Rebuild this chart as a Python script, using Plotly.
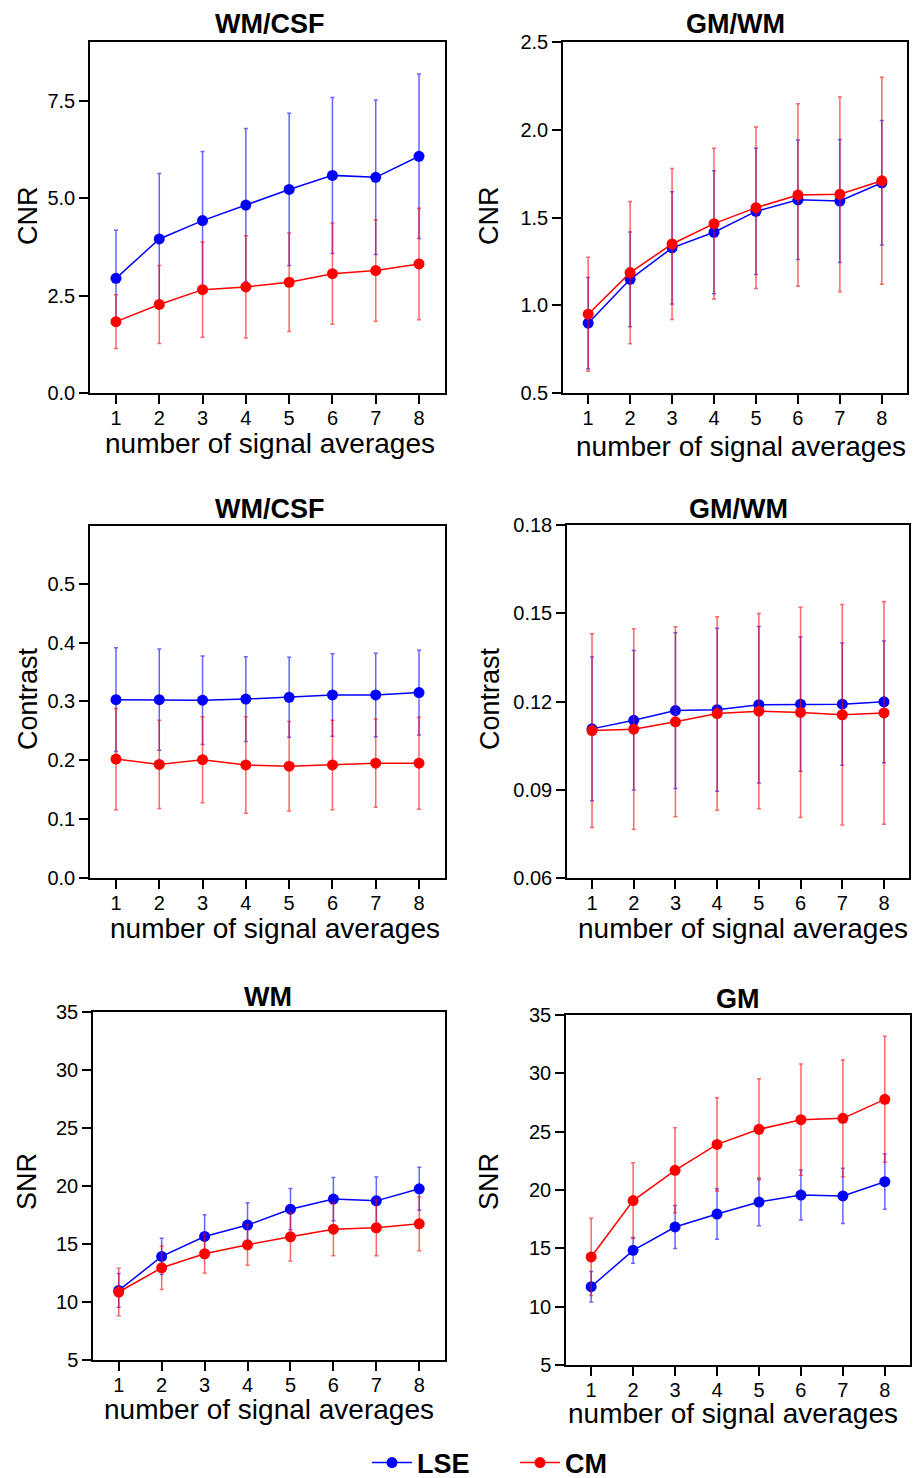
import plotly.graph_objects as go
from plotly.subplots import make_subplots

W, H = 913, 1478
FONT = "Liberation Sans, Arial, sans-serif"

nsa = [1, 2, 3, 4, 5, 6, 7, 8]

# Panel 1: CNR WM/CSF
cnr_wmcsf_lse = [2.94, 3.95, 4.42, 4.82, 5.22, 5.58, 5.53, 6.07]
cnr_wmcsf_lse_sd = [1.23, 1.68, 1.77, 1.96, 1.95, 2.00, 1.98, 2.11]
cnr_wmcsf_cm = [1.83, 2.27, 2.65, 2.72, 2.84, 3.06, 3.14, 3.31]
cnr_wmcsf_cm_sd = [0.69, 1.00, 1.22, 1.31, 1.26, 1.30, 1.30, 1.43]

# Panel 2: CNR GM/WM
cnr_gmwm_lse = [0.898, 1.148, 1.327, 1.416, 1.535, 1.601, 1.594, 1.698]
cnr_gmwm_lse_sd = [0.26, 0.27, 0.32, 0.35, 0.36, 0.34, 0.35, 0.355]
cnr_gmwm_cm = [0.949, 1.186, 1.349, 1.465, 1.556, 1.628, 1.632, 1.709]
cnr_gmwm_cm_sd = [0.325, 0.405, 0.43, 0.43, 0.46, 0.52, 0.555, 0.59]

# Panel 3: Contrast WM/CSF
con_wmcsf_lse = [0.303, 0.303, 0.302, 0.304, 0.307, 0.311, 0.311, 0.315]
con_wmcsf_lse_sd = [0.088, 0.086, 0.075, 0.072, 0.068, 0.070, 0.071, 0.072]
con_wmcsf_cm = [0.202, 0.193, 0.201, 0.192, 0.190, 0.192, 0.195, 0.195]
con_wmcsf_cm_sd = [0.086, 0.075, 0.073, 0.082, 0.076, 0.076, 0.075, 0.078]

# Panel 4: Contrast GM/WM
con_gmwm_lse = [0.1107, 0.1136, 0.1169, 0.1172, 0.1189, 0.1191, 0.1191, 0.1199]
con_gmwm_lse_sd = [0.0244, 0.0237, 0.0265, 0.0277, 0.0266, 0.0228, 0.0208, 0.0207]
con_gmwm_cm = [0.1101, 0.1106, 0.1131, 0.1159, 0.1167, 0.1163, 0.1155, 0.1161]
con_gmwm_cm_sd = [0.0329, 0.0341, 0.0323, 0.0329, 0.0332, 0.0357, 0.0375, 0.0378]

# Panel 5: SNR WM
snr_wm_lse = [11.0, 13.93, 15.65, 16.63, 18.0, 18.87, 18.72, 19.76]
snr_wm_lse_sd = [1.45, 1.57, 1.87, 1.93, 1.78, 1.87, 2.05, 1.85]
snr_wm_cm = [10.86, 12.95, 14.16, 14.93, 15.62, 16.28, 16.40, 16.74]
snr_wm_cm_sd = [2.04, 1.87, 1.67, 1.76, 2.08, 2.30, 2.42, 2.32]

# Panel 6: SNR GM
snr_gm_lse = [11.71, 14.83, 16.83, 17.94, 18.97, 19.57, 19.49, 20.71]
snr_gm_lse_sd = [1.30, 1.10, 1.85, 2.17, 2.03, 2.14, 2.37, 2.37]
snr_gm_cm = [14.26, 19.09, 21.69, 23.91, 25.20, 26.03, 26.14, 27.77]
snr_gm_cm_sd = [3.31, 3.24, 3.64, 4.00, 4.33, 4.77, 5.00, 5.40]

titles = ["WM/CSF", "GM/WM", "WM/CSF", "GM/WM", "WM", "GM"]
ytitles = ["CNR", "CNR", "Contrast", "Contrast", "SNR", "SNR"]
xtitle = "number of signal averages"

panels = [
    (cnr_wmcsf_lse, cnr_wmcsf_lse_sd, cnr_wmcsf_cm, cnr_wmcsf_cm_sd),
    (cnr_gmwm_lse, cnr_gmwm_lse_sd, cnr_gmwm_cm, cnr_gmwm_cm_sd),
    (con_wmcsf_lse, con_wmcsf_lse_sd, con_wmcsf_cm, con_wmcsf_cm_sd),
    (con_gmwm_lse, con_gmwm_lse_sd, con_gmwm_cm, con_gmwm_cm_sd),
    (snr_wm_lse, snr_wm_lse_sd, snr_wm_cm, snr_wm_cm_sd),
    (snr_gm_lse, snr_gm_lse_sd, snr_gm_cm, snr_gm_cm_sd),
]

# axis settings: (range, dtick, tickformat)
yaxes_cfg = [
    ([0, 9], 2.5, ".1f"),
    ([0.5, 2.5], 0.5, ".1f"),
    ([0, 0.598], 0.1, ".1f"),
    ([0.06, 0.18], 0.03, ".2f"),
    ([5, 35], 5, "d"),
    ([5, 35], 5, "d"),
]

# pixel boxes (left, right, top, bottom)
boxes = [
    (90, 445, 42, 393),
    (563, 907, 42, 393),
    (90, 445, 526, 878),
    (567, 909, 525, 878),
    (93, 445, 1012, 1360),
    (566, 910, 1015, 1365),
]
title_pos = [(269, 24), (735, 24), (269, 509), (738, 509), (268, 997), (738, 999)]
ytitle_pos = [(28, 216), (489, 216), (28, 699), (490, 699), (27, 1182), (489, 1182)]
xtitle_pos = [(270, 443), (741, 446), (275, 929), (743, 929), (269, 1409), (733, 1413)]

BLUE = "#0000ff"
RED = "#ff0000"
BLUE_E = "rgba(0,0,255,0.6)"
RED_E = "rgba(255,0,0,0.6)"

fig = make_subplots(rows=3, cols=2)

for i, (lse, lse_sd, cm, cm_sd) in enumerate(panels):
    r, c = i // 2 + 1, i % 2 + 1
    first = i == 0
    fig.add_trace(go.Scatter(
        x=nsa, y=lse, mode="lines+markers", name="LSE",
        line=dict(color=BLUE, width=1.5),
        marker=dict(color=BLUE, size=11),
        error_y=dict(type="data", array=lse_sd, visible=True, color=BLUE_E,
                     thickness=1.5, width=2),
        showlegend=first, legendgroup="LSE"), row=r, col=c)
    fig.add_trace(go.Scatter(
        x=nsa, y=cm, mode="lines+markers", name="CM",
        line=dict(color=RED, width=1.5),
        marker=dict(color=RED, size=11),
        error_y=dict(type="data", array=cm_sd, visible=True, color=RED_E,
                     thickness=1.5, width=2),
        showlegend=first, legendgroup="CM"), row=r, col=c)


def fy(y):
    return 1 - y / H


annotations = []
for i in range(6):
    l, rr, t, b = boxes[i]
    xd = [l / W, rr / W]
    yd = [fy(b), fy(t)]
    suffix = "" if i == 0 else str(i + 1)
    rng, dt, fmt = yaxes_cfg[i]
    fig.layout["xaxis" + suffix].update(
        domain=xd, range=[0.4, 8.6], tickmode="array", tickvals=nsa,
        ticks="outside", ticklen=9, tickwidth=2, tickcolor="black",
        showline=True, linecolor="black", linewidth=1.5, mirror=True,
        showgrid=False, zeroline=False, ticklabelstandoff=-3,
        tickfont=dict(family=FONT, size=20, color="black"))
    fig.layout["yaxis" + suffix].update(
        domain=yd, range=rng, tick0=rng[0], dtick=dt, tickformat=fmt,
        ticks="outside", ticklen=9, tickwidth=2, tickcolor="black",
        showline=True, linecolor="black", linewidth=1.5, mirror=True,
        showgrid=False, zeroline=False,
        tickfont=dict(family=FONT, size=20, color="black"))
    tx, ty = title_pos[i]
    annotations.append(dict(text=titles[i], x=tx / W, y=fy(ty), xref="paper", yref="paper",
                            xanchor="center", yanchor="middle", showarrow=False,
                            font=dict(family=FONT, size=27, color="black", weight="bold")))
    yx, yy = ytitle_pos[i]
    annotations.append(dict(text=ytitles[i], x=yx / W, y=fy(yy), xref="paper", yref="paper",
                            xanchor="center", yanchor="middle", showarrow=False, textangle=-90,
                            font=dict(family=FONT, size=27, color="black")))
    xx, xy = xtitle_pos[i]
    annotations.append(dict(text=xtitle, x=xx / W, y=fy(xy), xref="paper", yref="paper",
                            xanchor="center", yanchor="middle", showarrow=False,
                            font=dict(family=FONT, size=28, color="black")))

fig.update_layout(
    width=W, height=H,
    margin=dict(l=0, r=0, t=0, b=0, autoexpand=False),
    paper_bgcolor="white", plot_bgcolor="white",
    annotations=annotations,
    showlegend=True,
    legend=dict(orientation="h", x=367 / W, xanchor="left", y=fy(1463), yanchor="middle",
                font=dict(family=FONT, size=27, color="black", weight="bold"),
                bgcolor="rgba(0,0,0,0)", itemwidth=40, tracegroupgap=0,
                entrywidth=93, entrywidthmode="pixels"),
)

fig.write_html("out.html", config={"displayModeBar": False},
               post_script="document.body.style.margin='0';document.body.style.overflow='hidden';")
